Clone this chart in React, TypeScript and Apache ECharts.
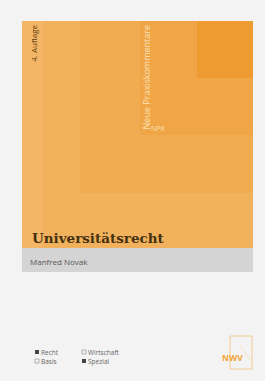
import React, { useEffect, useRef } from "react";
import * as echarts from "echarts";

const title = "Universitätsrecht";
const author = "Manfred Novak";
const edition = "4. Auflage";
const seriesName = "Neue Praxiskommentare";
const seriesShort = "NPK";
const publisher = "NWV";
const checkLabels = ["Recht", "Wirtschaft", "Basis", "Spezial"];
const checkChecked = [true, false, false, true];
// nested orange panels: left, bottom, colour
const panelLefts = [22, 43, 80, 140, 197];
const panelBottoms = [248, 248, 193, 135, 78];
const panelColors = ["#f3b666", "#f2b15c", "#f1ac52", "#f0a647", "#ee9c32"];

export default function App() {
  const ref = useRef<HTMLDivElement>(null);
  useEffect(() => {
    if (!ref.current) return;
    const chart = echarts.init(ref.current, undefined, { renderer: "svg" });
    const top = 21;
    const right = 253;
    const g: any[] = [];
    panelLefts.forEach((l, i) => {
      g.push({
        type: "rect",
        shape: { x: l, y: top, width: right - l, height: panelBottoms[i] - top },
        style: { fill: panelColors[i] },
      });
    });
    // author bar
    g.push({ type: "rect", shape: { x: 22, y: 248, width: 231, height: 24 }, style: { fill: "#d4d4d4" } });
    g.push({
      type: "text", x: 30, y: 261,
      style: { text: author, fill: "#555", fontSize: 8, fontFamily: "Open Sans", verticalAlign: "middle" },
    });
    // title
    g.push({
      type: "text", x: 32, y: 238,
      style: { text: title, fill: "#45310f", fontSize: 13.5, fontWeight: "bold", fontFamily: "DejaVu Serif", verticalAlign: "middle" },
    });
    // edition vertical
    g.push({
      type: "text", x: 33, y: 25, rotation: Math.PI / 2,
      style: { text: edition, fill: "#5a3a12", fontSize: 8, fontFamily: "Open Sans", align: "right", verticalAlign: "middle" },
    });
    // series vertical
    g.push({
      type: "text", x: 146, y: 25, rotation: Math.PI / 2,
      style: { text: seriesName, fill: "#fbe0b4", fontSize: 9, fontFamily: "Open Sans", align: "right", verticalAlign: "middle" },
    });
    g.push({
      type: "text", x: 151, y: 128,
      style: { text: seriesShort, fill: "#fbe0b4", fontSize: 7, fontFamily: "Open Sans", verticalAlign: "middle" },
    });
    // checkboxes
    const cx = [35, 82];
    const cy = [352, 361];
    checkLabels.forEach((lab, i) => {
      const col = i % 2;
      const row = Math.floor(i / 2);
      const x = cx[col];
      const y = cy[row];
      g.push({
        type: "rect",
        shape: { x: x, y: y - 2, width: 4, height: 4 },
        style: checkChecked[i] ? { fill: "#444" } : { fill: "none", stroke: "#888", lineWidth: 0.6 },
      });
      g.push({
        type: "text", x: x + 6, y: y,
        style: { text: lab, fill: "#666", fontSize: 6.5, fontFamily: "Open Sans", verticalAlign: "middle" },
      });
    });
    // logo
    g.push({
      type: "rect", shape: { x: 230, y: 336, width: 22, height: 33 },
      style: { fill: "none", stroke: "#f2bf78", lineWidth: 0.8 },
    });
    g.push({
      type: "line", shape: { x1: 240, y1: 345, x2: 250, y2: 360 },
      style: { stroke: "#f6d6a8", lineWidth: 0.6 },
    });
    g.push({
      type: "text", x: 222, y: 357,
      style: { text: publisher, fill: "#f0a43a", fontSize: 8.5, fontWeight: "bold", fontFamily: "Open Sans", verticalAlign: "middle" },
    });
    chart.setOption({ animation: false, backgroundColor: "#f3f3f3", graphic: g });
    return () => chart.dispose();
  }, []);
  return <div ref={ref} style={{ position: "fixed", left: 0, top: 0, width: 265, height: 381 }} />;
}
